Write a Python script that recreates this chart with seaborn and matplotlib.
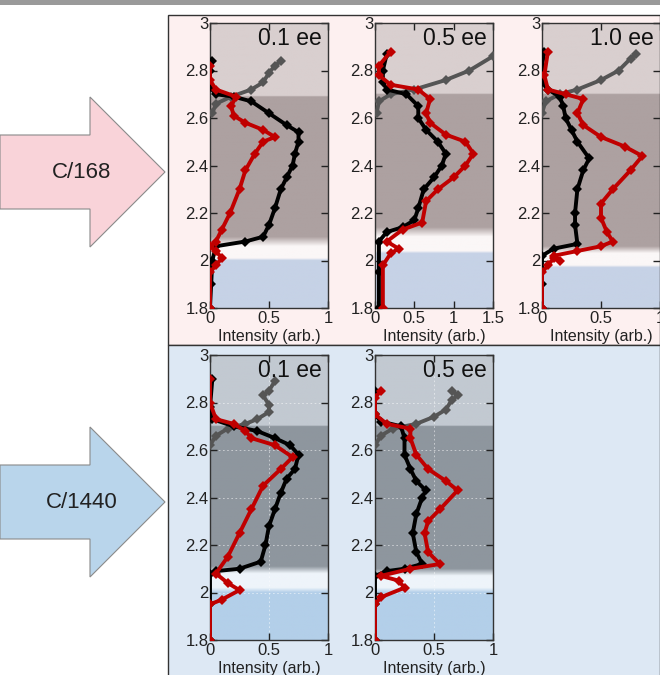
import numpy as np
import pandas as pd
import matplotlib
matplotlib.use("Agg")
import matplotlib.pyplot as plt
import seaborn as sns
from matplotlib.patches import Rectangle, Polygon

# ---- data (x = intensity, y = energy-ish axis) ----
panel_titles = ["0.1 ee", "0.5 ee", "1.0 ee", "0.1 ee", "0.5 ee"]
panel_xmax = [1.0, 1.5, 1.0, 1.0, 1.0]

gray_x = [
    [0.02, 0.05, 0.18, 0.35, 0.45, 0.50, 0.55, 0.60],
    [0.02, 0.05, 0.20, 0.50, 0.90, 1.20, 1.50],
    [0.00, 0.03, 0.15, 0.30, 0.50, 0.65, 0.75, 0.80],
    [0.00, 0.05, 0.15, 0.30, 0.40, 0.50, 0.50, 0.45, 0.50, 0.55],
    [0.00, 0.05, 0.15, 0.35, 0.50, 0.60, 0.65, 0.70, 0.65],
]
gray_y = [
    [2.62, 2.66, 2.69, 2.72, 2.75, 2.79, 2.82, 2.84],
    [2.62, 2.67, 2.70, 2.72, 2.76, 2.80, 2.86],
    [2.62, 2.67, 2.70, 2.72, 2.76, 2.80, 2.85, 2.87],
    [2.62, 2.66, 2.69, 2.71, 2.73, 2.76, 2.79, 2.83, 2.85, 2.89],
    [2.62, 2.66, 2.69, 2.71, 2.74, 2.77, 2.81, 2.83, 2.85],
]

black_x = [
    [0.00, 0.01, 0.02, 0.05, 0.30, 0.45, 0.50, 0.55, 0.60, 0.65, 0.70, 0.72, 0.75, 0.75, 0.65, 0.50, 0.35, 0.20, 0.05, 0.00, 0.00, 0.02],
    [0.05, 0.05, 0.05, 0.15, 0.35, 0.50, 0.55, 0.62, 0.75, 0.85, 0.90, 0.80, 0.65, 0.55, 0.55, 0.40, 0.15, 0.10, 0.10, 0.15],
    [0.00, 0.00, 0.00, 0.10, 0.30, 0.28, 0.28, 0.30, 0.35, 0.40, 0.30, 0.25, 0.20, 0.18, 0.15, 0.05, 0.00, 0.00, 0.02],
    [0.00, 0.00, 0.00, 0.05, 0.25, 0.43, 0.47, 0.50, 0.55, 0.60, 0.65, 0.72, 0.75, 0.68, 0.55, 0.40, 0.20, 0.02, 0.00, 0.02],
    [0.00, 0.00, 0.00, 0.10, 0.25, 0.40, 0.35, 0.32, 0.35, 0.40, 0.43, 0.35, 0.30, 0.25, 0.25, 0.22, 0.05, 0.00, 0.00],
]
black_y = [
    [1.80, 1.90, 2.00, 2.06, 2.08, 2.10, 2.15, 2.22, 2.30, 2.35, 2.40, 2.45, 2.50, 2.54, 2.57, 2.62, 2.67, 2.69, 2.70, 2.73, 2.80, 2.84],
    [1.80, 1.95, 2.08, 2.12, 2.14, 2.17, 2.22, 2.30, 2.35, 2.40, 2.45, 2.50, 2.55, 2.60, 2.65, 2.70, 2.72, 2.75, 2.80, 2.87],
    [1.80, 1.90, 2.02, 2.05, 2.07, 2.15, 2.20, 2.30, 2.38, 2.43, 2.50, 2.55, 2.60, 2.65, 2.69, 2.72, 2.75, 2.82, 2.88],
    [1.80, 1.95, 2.08, 2.09, 2.10, 2.13, 2.20, 2.28, 2.35, 2.42, 2.48, 2.52, 2.58, 2.62, 2.65, 2.68, 2.70, 2.73, 2.78, 2.90],
    [1.80, 1.95, 2.07, 2.09, 2.10, 2.12, 2.17, 2.25, 2.33, 2.40, 2.43, 2.47, 2.52, 2.58, 2.65, 2.70, 2.72, 2.75, 2.85],
]

red_x = [
    [0.00, 0.00, 0.05, 0.10, 0.05, 0.00, 0.05, 0.10, 0.17, 0.25, 0.30, 0.38, 0.45, 0.55, 0.45, 0.30, 0.20, 0.18, 0.22, 0.05, 0.00, 0.00],
    [0.10, 0.10, 0.20, 0.30, 0.15, 0.35, 0.60, 0.65, 0.80, 1.00, 1.15, 1.25, 1.15, 0.90, 0.70, 0.65, 0.70, 0.55, 0.20, 0.05, 0.05, 0.20],
    [0.00, 0.00, 0.05, 0.10, 0.15, 0.10, 0.30, 0.50, 0.60, 0.55, 0.50, 0.50, 0.60, 0.75, 0.85, 0.70, 0.50, 0.35, 0.30, 0.35, 0.20, 0.05, 0.02, 0.05],
    [0.00, 0.00, 0.10, 0.25, 0.15, 0.05, 0.15, 0.25, 0.35, 0.45, 0.60, 0.70, 0.55, 0.35, 0.30, 0.20, 0.05, 0.00, 0.00],
    [0.00, 0.00, 0.05, 0.25, 0.20, 0.05, 0.30, 0.55, 0.45, 0.42, 0.45, 0.55, 0.70, 0.60, 0.45, 0.35, 0.30, 0.30, 0.10, 0.00, 0.00, 0.05],
]
red_y = [
    [1.80, 1.95, 1.98, 2.01, 2.04, 2.06, 2.08, 2.13, 2.20, 2.30, 2.38, 2.45, 2.50, 2.52, 2.55, 2.58, 2.61, 2.65, 2.69, 2.72, 2.76, 2.82],
    [1.80, 1.98, 2.03, 2.05, 2.08, 2.13, 2.16, 2.25, 2.30, 2.35, 2.40, 2.45, 2.50, 2.53, 2.58, 2.62, 2.68, 2.72, 2.74, 2.78, 2.82, 2.88],
    [1.80, 1.95, 1.98, 2.01, 2.00, 2.02, 2.04, 2.06, 2.08, 2.12, 2.18, 2.24, 2.30, 2.38, 2.44, 2.48, 2.52, 2.57, 2.62, 2.68, 2.70, 2.72, 2.78, 2.88],
    [1.80, 1.95, 1.97, 2.01, 2.04, 2.08, 2.15, 2.25, 2.35, 2.45, 2.52, 2.57, 2.62, 2.65, 2.68, 2.71, 2.73, 2.80, 2.90],
    [1.80, 1.95, 1.98, 2.02, 2.05, 2.07, 2.10, 2.12, 2.17, 2.25, 2.30, 2.35, 2.43, 2.47, 2.52, 2.58, 2.65, 2.69, 2.71, 2.75, 2.82, 2.85],
]

# band edges: blue top, white start, white end, dark start, dark end (light above)
band_edges = [
    [2.00, 2.01, 2.06, 2.10, 2.69],
    [2.03, 2.04, 2.10, 2.14, 2.70],
    [1.97, 1.98, 2.03, 2.06, 2.70],
    [2.00, 2.02, 2.08, 2.11, 2.70],
    [2.00, 2.02, 2.07, 2.10, 2.70],
]

row_labels = ["C/168", "C/1440"]

# ---- styling ----
sns.set_theme(style="ticks")
plt.rcParams["font.family"] = ["Liberation Sans", "DejaVu Sans"]

W, H = 660, 675
fig = plt.figure(figsize=(W / 100, H / 100), dpi=100)

row_bg = ["#fdf0f0", "#dde8f4"]
band_cols = [
    dict(blue="#c6d2e6", white="#fbf7f7", dark="#ada1a1", light="#d9cfcf"),
    dict(blue="#b3cfe9", white="#eef4fa", dark="#8e969e", light="#c2c9d1"),
]
arrow_cols = ["#f9d3d9", "#b9d5eb"]


def fx(px):
    return px / W


def fy(py):
    return 1 - py / H


# top gray strip
fig.patches.append(Rectangle((0, fy(5)), 1, 5 / H, transform=fig.transFigure,
                             facecolor="#9a9a9a", edgecolor="none", zorder=-2))
# row backgrounds
for r, (y0, y1) in enumerate([(15, 345), (345, 676)]):
    fig.patches.append(Rectangle((fx(168), fy(y1)), 1 - fx(168), (y1 - y0) / H,
                                 transform=fig.transFigure, facecolor=row_bg[r],
                                 edgecolor="#333333", linewidth=1.0, zorder=-2))

# arrows
for r, cy in enumerate([172, 502]):
    pts = [(0, cy - 37), (90, cy - 37), (90, cy - 75), (165, cy), (90, cy + 75),
           (90, cy + 37), (0, cy + 37)]
    poly = Polygon([(fx(x), fy(y)) for x, y in pts], closed=True, transform=fig.transFigure,
                   facecolor=arrow_cols[r], edgecolor="#8a8a8a", linewidth=0.8, zorder=-1)
    fig.patches.append(poly)
    fig.text(fx(82), fy(cy + 1), row_labels[r], ha="center", va="center", fontsize=16,
             color="#222222")

axes_px = [(210, 23), (375, 23), (542, 23), (210, 355), (375, 355)]
ax_w, ax_h = 118, 285


def band_image(edges, cols):
    yy = np.linspace(1.8, 3.0, 600)
    b_top, w0, w1, d0, d1 = edges
    stops_y = [1.8, b_top, w0, w1, d0, d1, d1 + 0.005, 3.0]
    names = ["blue", "blue", "white", "white", "dark", "dark", "light", "light"]
    rgb = np.array([matplotlib.colors.to_rgb(cols[n]) for n in names])
    img = np.stack([np.interp(yy, stops_y, rgb[:, k]) for k in range(3)], axis=1)
    return img[:, None, :]


for i, (px, py) in enumerate(axes_px):
    r = 0 if i < 3 else 1
    ax = fig.add_axes([fx(px), fy(py + ax_h), ax_w / W, ax_h / H])
    ax.set_zorder(2)
    xmax = panel_xmax[i]
    ax.imshow(band_image(band_edges[i], band_cols[r]), extent=[0, xmax, 1.8, 3.0],
              origin="lower", aspect="auto", zorder=0)
    if r == 1:
        ax.grid(True, color="white", linestyle=(0, (2, 3)), linewidth=0.6, alpha=0.6)

    df_g = pd.DataFrame({"x": gray_x[i], "y": gray_y[i]})
    df_b = pd.DataFrame({"x": black_x[i], "y": black_y[i]})
    df_r = pd.DataFrame({"x": red_x[i], "y": red_y[i]})
    kw = dict(sort=False, estimator=None, marker="D", markersize=5,
              linewidth=2.8, markeredgewidth=0)
    sns.lineplot(data=df_g, x="x", y="y", ax=ax, color="#555555", zorder=3, **kw)
    sns.lineplot(data=df_b, x="x", y="y", ax=ax, color="#000000", zorder=4, **kw)
    sns.lineplot(data=df_r, x="x", y="y", ax=ax, color="#c00000", zorder=5, **kw)

    ax.set_xlim(0, xmax)
    ax.set_ylim(1.8, 3.0)
    xt = [0, 0.5, 1, 1.5] if xmax > 1 else [0, 0.5, 1]
    ax.set_xticks(xt)
    ax.set_xticklabels(["0", "0.5", "1", "1.5"][:len(xt)])
    ax.set_yticks([1.8, 2.0, 2.2, 2.4, 2.6, 2.8, 3.0])
    ax.set_yticklabels(["1.8", "2", "2.2", "2.4", "2.6", "2.8", "3"])
    ax.tick_params(direction="in", top=True, right=True, length=5, width=1,
                   labelsize=12, colors="#222222", pad=1)
    ax.tick_params(axis="x", pad=2.5)
    ax.set_xlabel("Intensity (arb.)", fontsize=11.5, color="#222222", labelpad=2)
    ax.set_ylabel("")
    for s in ax.spines.values():
        s.set_color("#333333")
        s.set_linewidth(1.0)
        s.set_visible(True)
    ax.text(0.95, 0.985, panel_titles[i], transform=ax.transAxes, ha="right", va="top",
            fontsize=16.5, color="#111111", zorder=6)
    leg = ax.get_legend()
    if leg is not None:
        leg.remove()

fig.savefig("out.png", dpi=100)
